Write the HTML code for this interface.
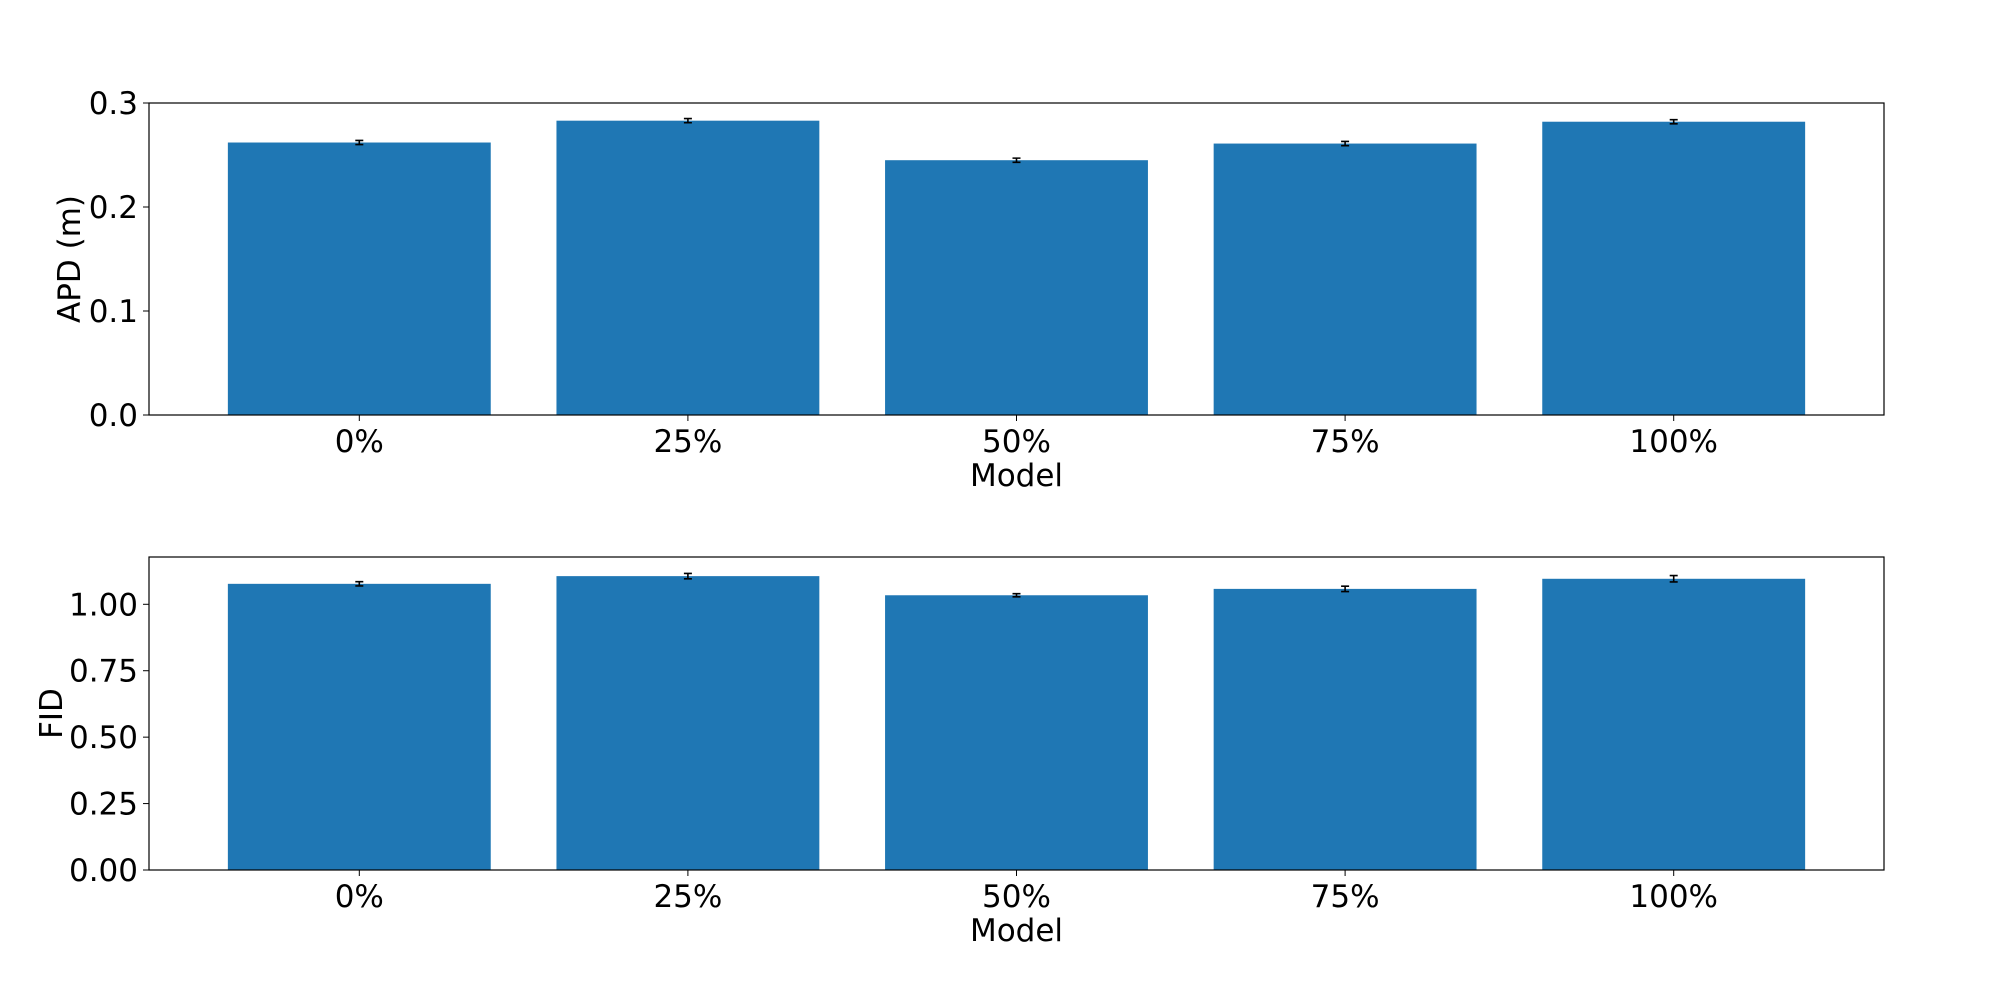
<!DOCTYPE html>
<html><head><meta charset="utf-8"><style>
html,body{margin:0;padding:0;background:#fff}
svg{display:block;font-family:"DejaVu Sans","Liberation Sans",sans-serif}
</style></head><body>
<svg id="chart" width="2000" height="1000" viewBox="0 0 2000 1000" xmlns="http://www.w3.org/2000/svg"></svg>
<script>
const categories = ["0%","25%","50%","75%","100%"];
const apdValues = [0.262,0.283,0.245,0.261,0.282];
const apdErrors = [0.002,0.002,0.002,0.002,0.002];
const fidValues = [1.077,1.106,1.034,1.058,1.096];
const fidErrors = [0.008,0.01,0.006,0.01,0.012];
const apdTicks = [0,0.1,0.2,0.3];
const apdTickLabels = ["0.0","0.1","0.2","0.3"];
const fidTicks = [0,0.25,0.5,0.75,1.0];
const fidTickLabels = ["0.00","0.25","0.50","0.75","1.00"];

const svg = document.getElementById('chart');
const NS = 'http://www.w3.org/2000/svg';
function mk(tag, attrs, parent){const e=document.createElementNS(NS,tag);for(const k in attrs)e.setAttribute(k,attrs[k]);(parent||svg).appendChild(e);return e;}

function panel(prefix, top, bottom, ymax, values, errors, ticks, tickLabels, ylabel, ylx){
  const L=149,R=1884;
  const xs=v=>L+(v+0.64)/5.28*(R-L);
  const ys=v=>bottom-v/ymax*(bottom-top);
  const g=mk('g',{});
  
  
  const bw=0.8/5.28*(R-L);
  values.forEach((v,i)=>{
    const r=mk('rect',{x:xs(i)-bw/2,y:ys(v),width:bw,height:bottom-ys(v),fill:'#1f77b4'},g);
    
    
    const cx=xs(i), y1=ys(v+errors[i]), y2=ys(v-errors[i]);
    const eb=mk('path',{d:`M${cx},${y1}V${y2}M${cx-4},${y1}H${cx+4}M${cx-4},${y2}H${cx+4}`,stroke:'#000','stroke-width':1.6,fill:'none'},g);
    
    
    mk('line',{x1:cx,x2:cx,y1:bottom,y2:bottom+6,stroke:'#000','stroke-width':1},g);
    const t=mk('text',{x:cx,y:bottom+37,'font-size':31,'text-anchor':'middle'},g);
    t.textContent=categories[i];
    
    
  });
  ticks.forEach((tv,i)=>{
    const y=ys(tv);
    mk('line',{x1:L-6,x2:L,y1:y,y2:y,stroke:'#000','stroke-width':1},g);
    const t=mk('text',{x:L-11,y:y+11,'font-size':31,'text-anchor':'end'},g);
    t.textContent=tickLabels[i];
    
    
  });
  const fr=mk('rect',{x:L,y:top,width:R-L,height:bottom-top,fill:'none',stroke:'#000','stroke-width':1.2},g);
  
  
  const xl=mk('text',{x:(L+R)/2,y:bottom+71,'font-size':31,'text-anchor':'middle'},g);
  xl.textContent='Model';
  
  
  const yl=mk('text',{x:0,y:0,'font-size':31,'text-anchor':'middle',transform:`translate(${ylx},${(top+bottom)/2}) rotate(-90)`},g);
  yl.textContent=ylabel;
  
  
}
panel('apd',103,415,0.3,apdValues,apdErrors,apdTicks,apdTickLabels,'APD (m)',80);
panel('fid',557,870,1.178,fidValues,fidErrors,fidTicks,fidTickLabels,'FID',62);
</script>
</body></html>
